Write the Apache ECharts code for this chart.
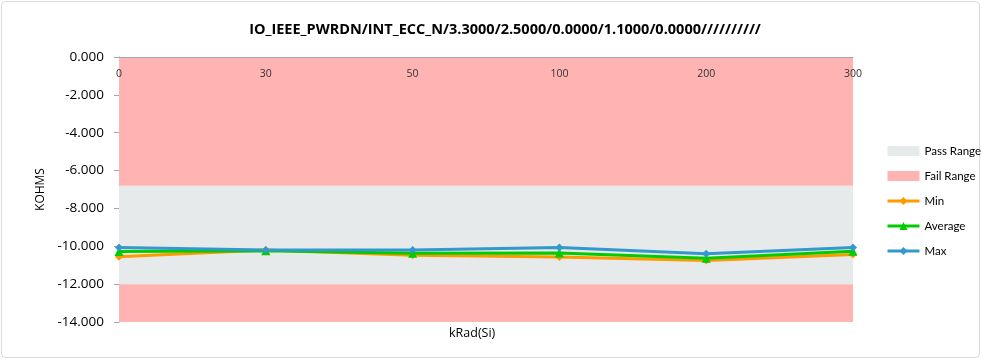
<!DOCTYPE html>
<html>
<head>
<meta charset="utf-8">
<script src="https://cdn.jsdelivr.net/npm/echarts@6/dist/echarts.min.js"></script>
<style>
  html, body { margin: 0; padding: 0; background: #fff; }
  #chart { width: 982px; height: 360px; }
</style>
</head>
<body>
<div id="chart"></div>
<script>
// Dose steps (kRad(Si)) and measured resistance in KOHMS
const categories = ['0', '30', '50', '100', '200', '300'];
const minValues = [-10.55, -10.20, -10.47, -10.57, -10.75, -10.44];
const avgValues = [-10.27, -10.24, -10.37, -10.36, -10.63, -10.26];
const maxValues = [-10.06, -10.20, -10.20, -10.06, -10.40, -10.06];

// Limits: pass band between the two limits, fail outside
const passLow = -12.0;
const passHigh = -6.8;
const axisMin = -14;
const axisMax = 0;

const chartTitle = 'IO_IEEE_PWRDN/INT_ECC_N/3.3000/2.5000/0.0000/1.1000/0.0000//////////';
const font = 'Open Sans';

const chart = echarts.init(document.getElementById('chart'));

const lineSeries = (name, data, color, symbol) => ({
  name: name,
  type: 'line',
  data: data,
  symbol: symbol,
  symbolSize: symbol === 'triangle' ? 9 : 8,
  lineStyle: { color: color, width: 3 },
  itemStyle: { color: color },
  z: 5
});

chart.setOption({
  animation: false,
  title: {
    text: chartTitle,
    left: 500,
    textAlign: 'center',
    top: 17,
    textStyle: { fontFamily: font, fontWeight: 'bold', fontSize: 14.5, color: '#000' }
  },
  grid: { left: 119, right: 129, top: 57, bottom: 38 },
  legend: {
    orient: 'vertical',
    left: 881,
    top: 140,
    itemGap: 13,
    itemWidth: 32,
    itemHeight: 10,
    textStyle: { fontFamily: 'Lato', fontSize: 11.5, color: '#000' },
    data: [
      { name: 'Pass Range', icon: 'rect', itemStyle: { color: '#e6eaea' } },
      { name: 'Fail Range', icon: 'rect', itemStyle: { color: '#ffb3b3' } },
      { name: 'Min', lineStyle: { width: 3 } },
      { name: 'Average', lineStyle: { width: 3 } },
      { name: 'Max', lineStyle: { width: 3 } }
    ]
  },
  xAxis: {
    type: 'category',
    data: categories,
    position: 'top',
    boundaryGap: false,
    z: 10,
    axisLine: { lineStyle: { color: '#a6a6a6' } },
    axisTick: { show: false },
    axisLabel: { inside: true, margin: 12, fontFamily: font, fontSize: 10.5, color: '#333' }
  },
  yAxis: {
    type: 'value',
    min: axisMin,
    max: axisMax,
    interval: 2,
    name: 'KOHMS',
    nameLocation: 'middle',
    nameGap: 72,
    nameTextStyle: { fontFamily: font, fontSize: 12, color: '#000' },
    axisLine: { show: true, lineStyle: { color: '#a6a6a6' } },
    axisTick: { show: true, length: 5, lineStyle: { color: '#a6a6a6' } },
    splitLine: { show: false },
    axisLabel: {
      margin: 15,
      fontFamily: font,
      fontSize: 13.5,
      color: '#000',
      formatter: v => v.toFixed(3)
    }
  },
  graphic: [
    {
      type: 'text',
      left: 449,
      top: 327,
      style: { text: 'kRad(Si)', font: '12.5px "Open Sans"', fill: '#000' }
    },
    {
      type: 'rect',
      shape: { x: 1.5, y: 1.5, width: 978, height: 356, r: 4 },
      style: { fill: 'none', stroke: '#d9d9d9', lineWidth: 1 },
      silent: true
    }
  ],
  series: [
    {
      name: 'Pass Range',
      type: 'line',
      data: [],
      itemStyle: { color: '#e6eaea' },
      markArea: {
        silent: true,
        itemStyle: { color: '#e6eaea' },
        data: [[{ yAxis: passHigh }, { yAxis: passLow }]]
      },
      z: 1
    },
    {
      name: 'Fail Range',
      type: 'line',
      data: [],
      itemStyle: { color: '#ffb3b3' },
      markArea: {
        silent: true,
        itemStyle: { color: '#ffb3b3' },
        data: [
          [{ yAxis: axisMax }, { yAxis: passHigh }],
          [{ yAxis: passLow }, { yAxis: axisMin }]
        ]
      },
      z: 1
    },
    lineSeries('Min', minValues, '#ff9900', 'diamond'),
    lineSeries('Average', avgValues, '#00cc00', 'triangle'),
    lineSeries('Max', maxValues, '#3399cc', 'diamond')
  ]
});
</script>
</body>
</html>
